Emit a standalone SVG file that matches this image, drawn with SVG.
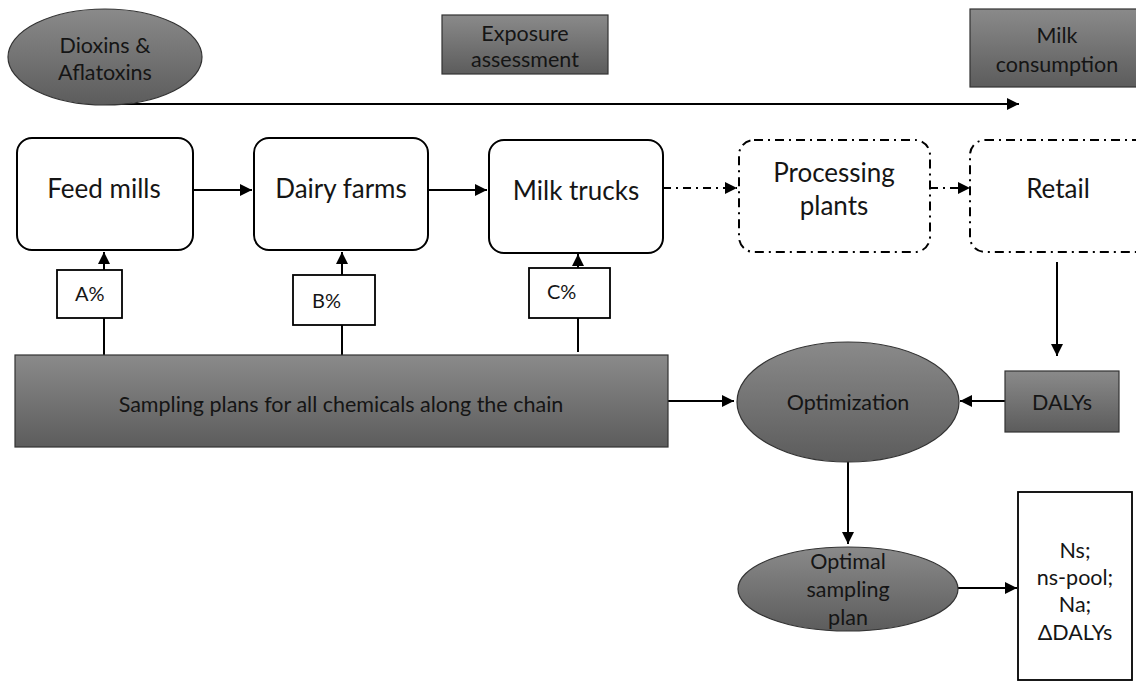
<svg xmlns="http://www.w3.org/2000/svg" width="1136" height="682" viewBox="0 0 1136 682">
<style>
text{font-family:Lato,"Liberation Sans",sans-serif;fill:#151515;text-anchor:middle;dominant-baseline:central}
.gray{fill:url(#g);stroke:#333;stroke-width:1.2}
.box{fill:#fff;stroke:#000;stroke-width:2}
.dash{fill:#fff;stroke:#000;stroke-width:2;stroke-dasharray:9 5 2 5}
.wbox{fill:#fff;stroke:#000;stroke-width:1.8}
.c{stroke:#000;stroke-width:2;fill:none}
.cd{stroke:#000;stroke-width:2;fill:none;stroke-dasharray:8 5 2 5}
.big{font-size:26px}
.mid{font-size:21.5px}
.pc{font-size:20px;text-anchor:start}
</style>
<defs>
<linearGradient id="g" x1="0" y1="0" x2="0" y2="1">
<stop offset="0" stop-color="#8a8a8a"/>
<stop offset="1" stop-color="#5c5c5c"/>
</linearGradient>
<marker id="a" viewBox="0 0 10 10" refX="10" refY="5" markerWidth="6" markerHeight="6" orient="auto" markerUnits="strokeWidth">
<path d="M0,0 L10,5 L0,10 Z" fill="#000"/>
</marker>
</defs>
<g id="connectors">
<line class="c" x1="105" y1="104" x2="1019" y2="104" marker-end="url(#a)"/>
<line class="c" x1="193" y1="190" x2="252" y2="190" marker-end="url(#a)"/>
<line class="c" x1="428" y1="190" x2="487" y2="190" marker-end="url(#a)"/>
<line class="cd" x1="663" y1="188" x2="737" y2="188" marker-end="url(#a)"/>
<line class="cd" x1="930" y1="188" x2="970" y2="188" marker-end="url(#a)"/>
<line class="c" x1="104" y1="355" x2="104" y2="318"/>
<line class="c" x1="104" y1="270" x2="104" y2="252" marker-end="url(#a)"/>
<line class="c" x1="342" y1="355" x2="342" y2="325"/>
<line class="c" x1="342" y1="275" x2="342" y2="252" marker-end="url(#a)"/>
<line class="c" x1="578" y1="352" x2="578" y2="318"/>
<line class="c" x1="578" y1="268" x2="578" y2="254" marker-end="url(#a)"/>
<line class="c" x1="668" y1="401" x2="734" y2="401" marker-end="url(#a)"/>
<line class="c" x1="1057" y1="262" x2="1057" y2="356" marker-end="url(#a)"/>
<line class="c" x1="1005" y1="401" x2="960" y2="401" marker-end="url(#a)"/>
<line class="c" x1="848" y1="462" x2="848" y2="544" marker-end="url(#a)"/>
<line class="c" x1="958" y1="588" x2="1017" y2="588" marker-end="url(#a)"/>
</g>
<g id="dioxins">
<ellipse class="gray" cx="105" cy="57" rx="97" ry="48"/>
<text class="mid" x="105" y="45">Dioxins &amp;</text>
<text class="mid" x="105" y="72">Aflatoxins</text>
</g>
<g id="exposure">
<rect class="gray" x="442" y="15" width="166" height="59"/>
<text class="mid" x="525" y="33">Exposure</text>
<text class="mid" x="525" y="59">assessment</text>
</g>
<g id="milkconsumption">
<rect class="gray" x="970" y="9" width="175" height="78"/>
<text class="mid" x="1057" y="35">Milk</text>
<text class="mid" x="1057" y="64">consumption</text>
</g>
<g id="feedmills">
<rect class="box" x="17" y="138" width="176" height="112" rx="15"/>
<text class="big" x="104" y="188">Feed mills</text>
</g>
<g id="dairyfarms">
<rect class="box" x="254" y="138" width="174" height="112" rx="15"/>
<text class="big" x="341" y="188">Dairy farms</text>
</g>
<g id="milktrucks">
<rect class="box" x="489" y="140" width="174" height="113" rx="15"/>
<text class="big" x="576" y="190">Milk trucks</text>
</g>
<g id="processing">
<rect class="dash" x="739" y="140" width="191" height="112" rx="15"/>
<text class="big" x="834" y="172">Processing</text>
<text class="big" x="834" y="205">plants</text>
</g>
<g id="retail">
<rect class="dash" x="970" y="140" width="185" height="112" rx="15"/>
<text class="big" x="1058" y="188">Retail</text>
</g>
<g id="a-pct">
<rect class="wbox" x="57" y="270" width="65" height="48"/>
<text class="pc" x="75" y="293">A%</text>
</g>
<g id="b-pct">
<rect class="wbox" x="293" y="275" width="82" height="50"/>
<text class="pc" x="312" y="300">B%</text>
</g>
<g id="c-pct">
<rect class="wbox" x="529" y="268" width="81" height="50"/>
<text class="pc" x="547" y="291">C%</text>
</g>
<g id="sampling">
<rect class="gray" x="15" y="355" width="653" height="92"/>
<text class="mid" x="341" y="404">Sampling plans for all chemicals along the chain</text>
</g>
<g id="optimization">
<ellipse class="gray" cx="848" cy="402" rx="111" ry="60"/>
<text class="mid" x="848" y="402">Optimization</text>
</g>
<g id="dalys">
<rect class="gray" x="1005" y="371" width="114" height="61"/>
<text class="mid" x="1062" y="402">DALYs</text>
</g>
<g id="optimal">
<ellipse class="gray" cx="848" cy="589" rx="110" ry="42"/>
<text class="mid" x="848" y="561">Optimal</text>
<text class="mid" x="848" y="589">sampling</text>
<text class="mid" x="848" y="617">plan</text>
</g>
<g id="results">
<rect class="wbox" x="1018" y="492" width="114" height="188"/>
<text class="mid" x="1075" y="550">Ns;</text>
<text class="mid" x="1075" y="577">ns-pool;</text>
<text class="mid" x="1075" y="604">Na;</text>
<text class="mid" x="1075" y="632">ΔDALYs</text>
</g>
</svg>
